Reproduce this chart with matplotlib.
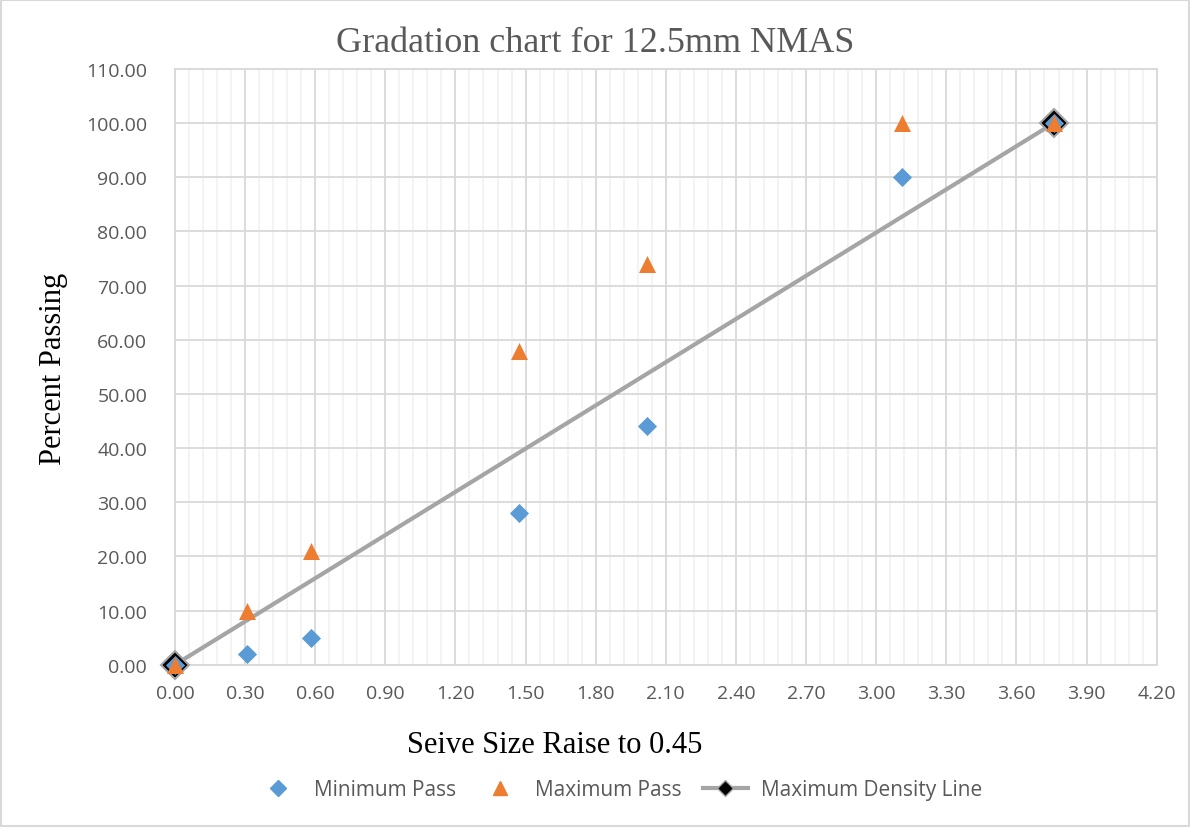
import matplotlib
matplotlib.use("Agg")
import matplotlib.pyplot as plt
import matplotlib.lines as mlines
from matplotlib.ticker import MultipleLocator, FormatStrFormatter

# sieve size raised to 0.45 power
sieve_x = [0.0, 0.31, 0.58, 1.47, 2.02, 3.11, 3.76]
min_pass = [0, 2, 5, 28, 44, 90, 100]
max_pass = [0, 10, 21, 58, 74, 100, 100]
density_x = [0.0, 3.76]
density_y = [0, 100]

blue = '#5B9BD5'
orange = '#ED7D31'
gray_line = '#A5A5A5'
txt = '#595959'

fig = plt.figure(figsize=(11.9, 8.28), dpi=100)
ax = fig.add_axes([0.147, 0.196, 0.825, 0.7195])

ax.plot(density_x, density_y, color=gray_line, lw=3, marker='D', markersize=14,
        markerfacecolor='black', markeredgecolor=gray_line, markeredgewidth=1.5,
        zorder=3, clip_on=False)
ax.scatter(sieve_x, min_pass, marker='D', s=95, color=blue, zorder=4, linewidths=0, clip_on=False)
ax.scatter(sieve_x, max_pass, marker='^', s=150, color=orange, zorder=5, linewidths=0, clip_on=False)

ax.set_xlim(0, 4.2)
ax.set_ylim(0, 110)
ax.xaxis.set_major_locator(MultipleLocator(0.3))
ax.xaxis.set_minor_locator(MultipleLocator(0.06))
ax.yaxis.set_major_locator(MultipleLocator(10))
ax.xaxis.set_major_formatter(FormatStrFormatter('%.2f'))
ax.yaxis.set_major_formatter(FormatStrFormatter('%.2f'))

ax.grid(which='major', color='#D9D9D9', lw=1.3)
ax.grid(which='minor', axis='x', color='#F0F0F0', lw=1.1)
ax.set_axisbelow(True)
for s in ax.spines.values():
    s.set_color('#D9D9D9')
    s.set_linewidth(1.3)
ax.tick_params(which='both', length=0, labelsize=14, colors=txt)
ax.tick_params(axis='y', pad=20)
ax.tick_params(axis='x', pad=14)
for lab in ax.get_xticklabels() + ax.get_yticklabels():
    lab.set_family('Open Sans')

fig.text(0.5, 0.948, 'Gradation chart for 12.5mm NMAS', ha='center', va='center',
         family='Liberation Serif', fontsize=26, color=txt)
fig.text(0.466, 0.1, 'Seive Size Raise to 0.45', ha='center', va='center',
         family='Liberation Serif', fontsize=22, color='black')
fig.text(0.045, 0.555, 'Percent Passing', ha='center', va='center', rotation=90,
         family='Liberation Serif', fontsize=22, color='black')

# legend
h1 = mlines.Line2D([], [], color=blue, marker='D', markersize=8, linestyle='None', label='Minimum Pass')
h2 = mlines.Line2D([], [], color=orange, marker='^', markersize=10, linestyle='None', label='Maximum Pass')
h3 = mlines.Line2D([], [], color=gray_line, lw=3, marker='D', markersize=8, markerfacecolor='black',
                   markeredgecolor=gray_line, label='Maximum Density Line')
leg = fig.legend(handles=[h1, h2, h3], loc='center', bbox_to_anchor=(0.52, 0.045), ncol=3,
                 frameon=False, prop={'family': 'Open Sans', 'size': 15}, handlelength=2.2,
                 columnspacing=1.0, handletextpad=0.6)
for t in leg.get_texts():
    t.set_color(txt)

fig.patches.append(plt.Rectangle((0.001, 0.001), 0.998, 0.998, transform=fig.transFigure,
                                 fill=False, edgecolor='#D9D9D9', lw=1.5))

fig.savefig('out.png', dpi=100)
